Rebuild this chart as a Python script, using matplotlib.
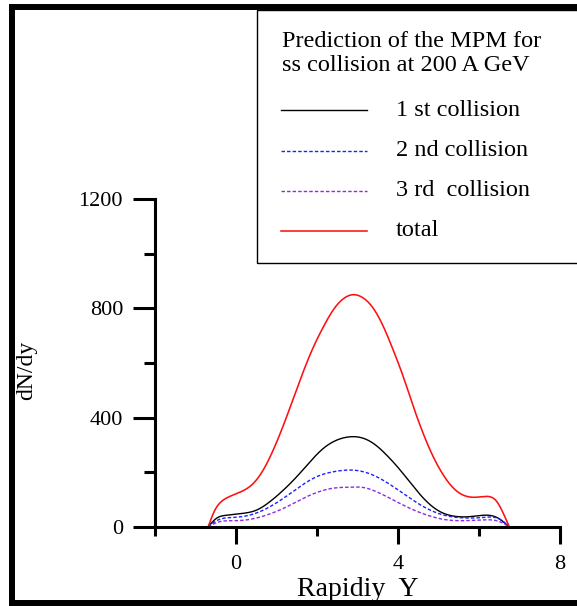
import matplotlib
matplotlib.use("Agg")
import matplotlib.pyplot as plt
from matplotlib.lines import Line2D
from matplotlib.patches import Rectangle
import numpy as np

plt.rcParams['font.family'] = ['Liberation Serif', 'DejaVu Serif']

# ---- data ----
x_total = [-0.69, -0.52, -0.31, -0.07, 0.18, 0.43, 0.67, 0.92, 1.17, 1.41, 1.66, 1.91, 2.16, 2.40,
           2.65, 2.90, 3.14, 3.39, 3.64, 3.88, 4.13, 4.38, 4.62, 4.87, 5.12, 5.37, 5.70, 5.94,
           6.19, 6.44, 6.60, 6.75]
y_total = [0, 62, 99, 117, 133, 160, 208, 282, 372, 468, 568, 658, 733, 794,
           835, 850, 838, 800, 733, 648, 550, 440, 343, 257, 190, 142, 112, 109,
           112, 93, 50, 0]

x_first = [-0.69, -0.48, -0.23, 0.18, 0.51, 0.84, 1.17, 1.50, 1.83, 2.16, 2.49, 2.81, 3.06,
           3.39, 3.72, 4.05, 4.38, 4.71, 5.04, 5.37, 5.78, 6.11, 6.44, 6.75]
y_first = [0, 32, 43, 50, 62, 93, 135, 184, 239, 288, 318, 330, 328,
           306, 263, 209, 148, 93, 56, 40, 38, 43, 35, 0]

x_second = [-0.69, -0.48, -0.07, 0.35, 0.76, 1.17, 1.58, 1.99, 2.40, 2.90, 3.06, 3.47, 3.88,
            4.30, 4.71, 5.12, 5.53, 6.11, 6.52, 6.75]
y_second = [0, 23, 35, 44, 68, 105, 148, 184, 202, 208, 205, 184, 148,
            105, 68, 44, 34, 35, 28, 0]

x_third = [-0.69, -0.48, -0.07, 0.35, 0.76, 1.17, 1.58, 1.99, 2.40, 2.90, 3.06, 3.47, 3.88,
           4.30, 4.71, 5.12, 5.61, 6.11, 6.52, 6.75]
y_third = [0, 16, 23, 28, 44, 68, 99, 126, 142, 146, 146, 129, 99,
           68, 44, 28, 23, 26, 19, 0]

x_ticks = [0, 4, 8]
y_ticks = [0, 400, 800, 1200]
legend_title = ["Prediction of the MPM for", "ss collision at 200 A GeV"]
labels = ["1 st collision", "2 nd collision", "3 rd  collision", "total"]


def spline(xs, ys, per=25):
    """Natural cubic spline through the read points (drawing only)."""
    x = np.asarray(xs, float)
    y = np.asarray(ys, float)
    n = len(x)
    h = np.diff(x)
    A = np.zeros((n, n))
    b = np.zeros(n)
    A[0, 0] = A[-1, -1] = 1
    for i in range(1, n - 1):
        A[i, i - 1] = h[i - 1]
        A[i, i] = 2 * (h[i - 1] + h[i])
        A[i, i + 1] = h[i]
        b[i] = 3 * ((y[i + 1] - y[i]) / h[i] - (y[i] - y[i - 1]) / h[i - 1])
    c = np.linalg.solve(A, b)
    out_x, out_y = [], []
    for i in range(n - 1):
        t = np.linspace(0, h[i], per, endpoint=False)
        bb = (y[i + 1] - y[i]) / h[i] - h[i] * (2 * c[i] + c[i + 1]) / 3
        d = (c[i + 1] - c[i]) / (3 * h[i])
        out_x.extend(x[i] + t)
        out_y.extend(y[i] + bb * t + c[i] * t ** 2 + d * t ** 3)
    out_x.append(x[-1]); out_y.append(y[-1])
    return np.array(out_x), np.clip(np.array(out_y), 0, None)


W, H = 577, 606
fig = plt.figure(figsize=(W / 100, H / 100), dpi=100)
fig.patch.set_facecolor('white')

ax_l, ax_r, ax_t, ax_b = 155, 560, 199, 527
ax = fig.add_axes([ax_l / W, 1 - ax_b / H, (ax_r - ax_l) / W, (ax_b - ax_t) / H])
ax.set_facecolor('none')

styles = [
    dict(color='black', lw=1.0, ls='-'),
    dict(color='#1f1fff', lw=1.0, ls=(0, (2.5, 1.5))),
    dict(color='#8a2be2', lw=1.0, ls=(0, (2.5, 1.5))),
    dict(color='#ff1010', lw=1.15, ls='-'),
]
series = [(x_first, y_first), (x_second, y_second), (x_third, y_third), (x_total, y_total)]
for (xs, ys), st in zip(series, styles):
    sx, sy = spline(xs, ys)
    ax.plot(sx, sy, clip_on=False, **st)

ax.set_xlim(-2, 8)
ax.set_ylim(0, 1200)
for s in ['top', 'right']:
    ax.spines[s].set_visible(False)
for s in ['left', 'bottom']:
    ax.spines[s].set_linewidth(2.2)

ax.xaxis.set_major_locator(plt.FixedLocator(x_ticks))
ax.xaxis.set_minor_locator(plt.FixedLocator([-2, 2, 6]))
ax.yaxis.set_major_locator(plt.FixedLocator(y_ticks))
ax.yaxis.set_minor_locator(plt.FixedLocator([200, 600, 1000]))
ax.tick_params(axis='x', which='major', direction='out', length=12, width=2.2, labelsize=16, pad=8)
ax.tick_params(axis='x', which='minor', direction='out', length=6.5, width=2.2)
ax.tick_params(axis='y', which='major', direction='out', length=16, width=2.2, labelsize=16, pad=7)
ax.tick_params(axis='y', which='minor', direction='out', length=8, width=2.2)

ax.set_xlabel("Rapidiy  Y", fontsize=20, labelpad=2)
fig.text(27 / W, 1 - 370 / H, "dN/dy", rotation=90, fontsize=17, ha='center', va='center')

# overlay in pixel coordinates for frame and legend
ov = fig.add_axes([0, 0, 1, 1])
ov.set_xlim(0, W)
ov.set_ylim(H, 0)
ov.axis('off')
ov.set_facecolor('none')

# legend box
ov.add_patch(Rectangle((257, 10), 340, 253, fill=False, edgecolor='black', lw=1.0, clip_on=False))
for yy, line in zip([47, 71], legend_title):
    ov.text(282, yy, line, fontsize=17.5, ha='left', va='baseline')
entry_y = [110, 151, 191, 231]
for yy, st, lab in zip(entry_y, styles, labels):
    ov.add_line(Line2D([281, 367], [yy, yy], color=st['color'], lw=st['lw'], ls=st['ls']))
    ov.text(396, yy, lab, fontsize=17.5, ha='left', va='center')

# outer frame (right edge cut off)
fw = 4.3
ov.add_line(Line2D([12, 12], [4, 606], color='black', lw=fw, solid_capstyle='butt'))
ov.add_line(Line2D([9, 600], [7, 7], color='black', lw=fw, solid_capstyle='butt', clip_on=False))
ov.add_line(Line2D([9, 600], [603, 603], color='black', lw=fw, solid_capstyle='butt', clip_on=False))

fig.savefig("out.png", dpi=100)
